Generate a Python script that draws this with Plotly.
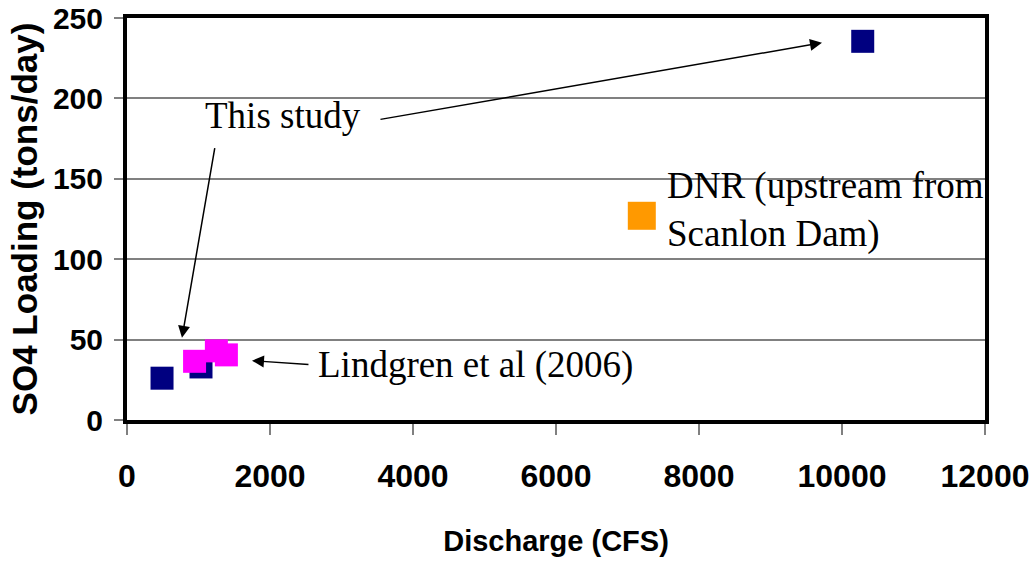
import plotly.graph_objects as go

# Sulfate loading vs. discharge
study_q = [490, 1035, 10290]
study_load = [26, 33, 235.5]

lindgren_q = [945, 1250, 1390]
lindgren_load = [36.5, 43, 40.5]

dnr_q = [7200]
dnr_load = [127]

x_ticks = [0, 2000, 4000, 6000, 8000, 10000, 12000]
x_tick_text = ["0", "2000", "4000", "6000", "8000", "10000", "12000"]
y_ticks = [0, 50, 100, 150, 200, 250]
y_tick_text = ["0", "50", "100", "150", "200", "250"]

NAVY = "#000080"
MAGENTA = "#FF00FF"
ORANGE = "#FF9900"

X_TICK_FONT = dict(family="Liberation Sans, Arial", size=32, color="black")
Y_TICK_FONT = dict(family="Liberation Sans, Arial", size=30, color="black")
NOTE_FONT = dict(family="Liberation Serif, Times New Roman, serif", size=37, color="black")

fig = go.Figure()
fig.add_trace(go.Scatter(x=study_q, y=study_load, mode="markers", name="This study",
                         marker=dict(symbol="square", size=23, color=NAVY, line=dict(width=0))))
fig.add_trace(go.Scatter(x=lindgren_q, y=lindgren_load, mode="markers", name="Lindgren et al (2006)",
                         marker=dict(symbol="square", size=23, color=MAGENTA, line=dict(width=0))))
fig.add_trace(go.Scatter(x=dnr_q, y=dnr_load, mode="markers", name="DNR",
                         marker=dict(symbol="square", size=28, color=ORANGE, line=dict(width=0))))

# Text labels
fig.add_annotation(x=1060, y=189.5, text="This study", showarrow=False,
                   xanchor="left", yanchor="middle", font=NOTE_FONT)
fig.add_annotation(x=2640, y=34.0, text="Lindgren et al (2006)", showarrow=False,
                   xanchor="left", yanchor="middle", font=NOTE_FONT)
fig.add_annotation(x=7530, y=130.5, text="DNR (upstream from<br>Scanlon Dam)", showarrow=False,
                   xanchor="left", yanchor="middle", align="left", font=NOTE_FONT)

# Pointer arrows
arrows = [
    ((3524, 186.8), (9720, 234.6)),
    ((1231, 170.0), (769, 51.1)),
    ((2559, 34.4), (1748, 36.9)),
]
for (tx, ty), (hx, hy) in arrows:
    fig.add_annotation(x=hx, y=hy, ax=tx, ay=ty, xref="x", yref="y", axref="x", ayref="y",
                       text="", showarrow=True, arrowhead=2, arrowsize=1.6, arrowwidth=1.5,
                       arrowcolor="black", standoff=0, startstandoff=0)

fig.update_xaxes(range=[0, 12000], tickmode="array", tickvals=x_ticks,
                 ticktext=[f"<b>{t}</b>" for t in x_tick_text],
                 ticks="outside", ticklen=11, automargin=False, ticklabeloverflow="allow",
                 tickcolor="#808080", tickwidth=1.5, showgrid=False, zeroline=False,
                 showline=True, linecolor="black", linewidth=4, mirror=True,
                 tickfont=X_TICK_FONT, ticklabelstandoff=14,
                 title=dict(text="<b>Discharge (CFS)</b>",
                            font=dict(family="Liberation Sans, Arial", size=29, color="black"),
                            standoff=38))
fig.update_yaxes(range=[0, 250], tickmode="array", tickvals=y_ticks,
                 ticktext=[f"<b>{t}</b>" for t in y_tick_text],
                 ticks="outside", ticklen=9, automargin=False, ticklabeloverflow="allow",
                 tickcolor="#808080", tickwidth=1.5, showgrid=True, gridcolor="#808080",
                 gridwidth=1.5, zeroline=False,
                 showline=True, linecolor="black", linewidth=4, mirror=True,
                 tickfont=Y_TICK_FONT, ticklabelstandoff=5,
                 title=dict(text="<b>SO4 Loading (tons/day)</b>",
                            font=dict(family="Liberation Sans, Arial", size=35, color="black"),
                            standoff=6))

fig.update_layout(width=1032, height=563, showlegend=False,
                  paper_bgcolor="white", plot_bgcolor="white",
                  margin=dict(l=127, r=47, t=18, b=143),
                  font=dict(family="Liberation Sans, Arial", color="black"))

fig.write_html("out.html")
